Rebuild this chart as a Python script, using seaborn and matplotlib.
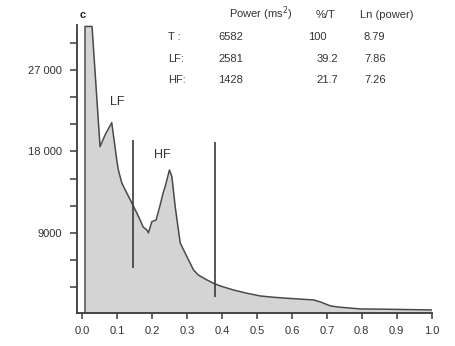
import matplotlib
matplotlib.use("Agg")
import matplotlib.pyplot as plt
import seaborn as sns
import pandas as pd
import numpy as np

# ---- data ----
freq = [0.0086, 0.0086, 0.0287, 0.0516, 0.0659, 0.0851, 0.0994, 0.104, 0.1138,
        0.128, 0.1424, 0.1567, 0.1662, 0.1748, 0.1854, 0.190, 0.1997, 0.212,
        0.2235, 0.232, 0.2378, 0.2501, 0.257, 0.2665, 0.2808, 0.300, 0.3189,
        0.3324, 0.3573, 0.3762, 0.3954, 0.4327, 0.4719, 0.510, 0.5473, 0.5865,
        0.6628, 0.682, 0.7106, 0.7393, 0.7966, 0.873, 1.0]
power = [0, 31800, 31800, 18525, 19817, 21175, 17057, 15953, 14518,
         13414, 12310, 11206, 10433, 9660, 9329, 8998, 10245, 10433,
         12089, 13414, 14109, 15953, 15213, 11901, 7894, 6381, 4913,
         4361, 3809, 3444, 3146, 2705, 2340, 2042, 1899, 1788,
         1601, 1380, 938, 795, 607, 574, 497]

band_edges = [0.146, 0.381]
band_low = [5134, 1932]
band_high = [19265, 19044]

ytick_major = [9000, 18000, 27000]
ytick_labels = ["9000", "18 000", "27 000"]
ytick_minor = [3000, 6000, 12000, 15000, 21000, 24000, 30000]
xticks = [0.0, 0.1, 0.2, 0.3, 0.4, 0.5, 0.6, 0.7, 0.8, 0.9, 1.0]

table_header = ["Power (ms$^2$)", "%/T", "Ln (power)"]
row_labels = ["T :", "LF:", "HF:"]
power_vals = ["6582", "2581", "1428"]
pct_vals = ["100", "39.2", "21.7"]
ln_vals = ["8.79", "7.86", "7.26"]

df = pd.DataFrame({"freq": freq, "power": power})

sns.set_theme(style="ticks")
plt.rcParams["font.family"] = ["Liberation Sans", "DejaVu Sans"]

W, H = 455, 346
fig = plt.figure(figsize=(W / 100, H / 100), dpi=100)
ax = fig.add_axes([77 / W, 1 - 313 / H, (431.7 - 77) / W, (313 - 25) / H])

axc = "#3a3a3a"
ax.fill_between(df["freq"], df["power"], 0, color="#d4d4d4", linewidth=0, zorder=1)
sns.lineplot(data=df, x="freq", y="power", ax=ax, color="#4a4a4a", linewidth=1.1,
             sort=False, estimator=None, zorder=2)

for xe, lo, hi in zip(band_edges, band_low, band_high):
    ax.vlines(xe, lo, hi, color="#3a3a3a", linewidth=1.2, zorder=3)

ax.set_xlim(-0.0143, 1.0)
ax.set_ylim(160, 31960)

ax.set_xticks(xticks)
ax.set_xticklabels([f"{v:.1f}" for v in xticks])
ax.set_yticks(ytick_major)
ax.set_yticklabels(ytick_labels)
ax.set_yticks(ytick_minor, minor=True)

ax.set_xlabel("")
ax.set_ylabel("")
sns.despine(ax=ax)
for s in ["left", "bottom"]:
    ax.spines[s].set_color(axc)
    ax.spines[s].set_linewidth(1.3)

ax.tick_params(axis="both", which="both", direction="out", color=axc,
               width=1.1, labelsize=8, labelcolor="#333333")
ax.tick_params(axis="y", which="both", length=5, pad=6)
ax.tick_params(axis="x", which="both", length=4, pad=5)

def px(x, y):
    return x / W, 1 - y / H

tc = "#333333"
fig.text(*px(80, 15), "c", fontsize=8, fontweight="bold", color="#222222",
         ha="left", va="center")
fig.text(*px(117, 102), "LF", fontsize=9, color=tc, ha="center", va="center")
fig.text(*px(162, 155), "HF", fontsize=9, color=tc, ha="center", va="center")

fig.text(*px(229, 14), table_header[0], fontsize=8, color=tc, ha="left", va="center")
fig.text(*px(316, 15), table_header[1], fontsize=8, color=tc, ha="left", va="center")
fig.text(*px(360, 15), table_header[2], fontsize=8, color=tc, ha="left", va="center")

row_y = [37, 58.5, 80]
for yy, rl, pv, pc, lv in zip(row_y, row_labels, power_vals, pct_vals, ln_vals):
    fig.text(*px(168, yy), rl, fontsize=8, color=tc, ha="left", va="center")
    fig.text(*px(218, yy), pv, fontsize=8, color=tc, ha="left", va="center")
    fig.text(*px(338 if pc != "100" else 327, yy), pc, fontsize=8, color=tc,
             ha="right", va="center")
    fig.text(*px(364, yy), lv, fontsize=8, color=tc, ha="left", va="center")

fig.savefig("out.png", dpi=100)
